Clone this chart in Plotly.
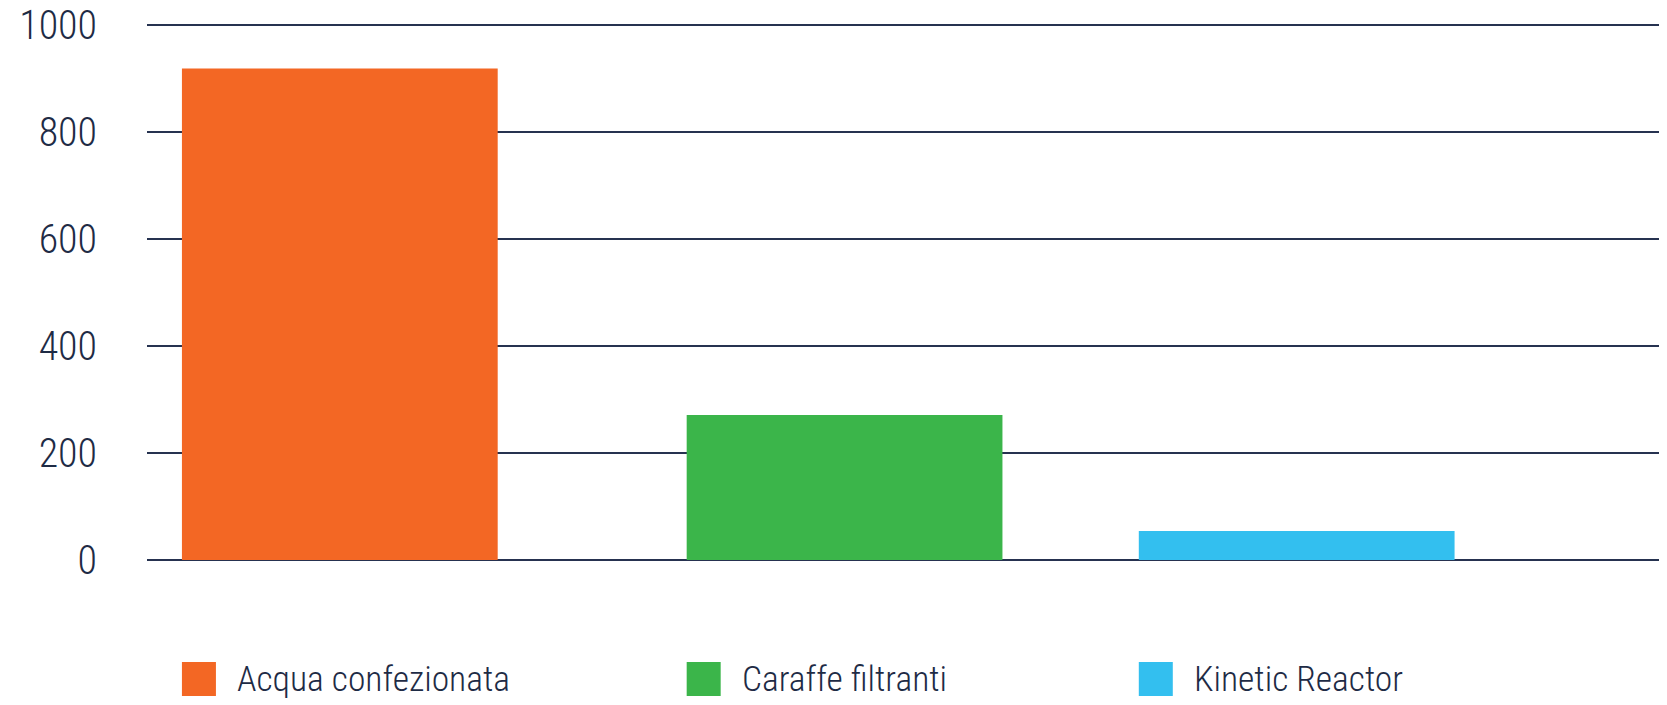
import plotly.graph_objects as go

categories = ["Acqua confezionata", "Caraffe filtranti", "Kinetic Reactor"]
values = [918, 271, 54]
colors = ["#F36724", "#3BB54A", "#33BFEF"]
y_ticks = [0, 200, 400, 600, 800, 1000]

TEXT = "#1E2B45"
GRID = "#263250"
FONT = ("Noto Sans ExtraCondensed Light, Noto Sans ExtraCondensed, "
        "Noto Sans Condensed Light, Noto Sans Condensed, Roboto Condensed, "
        "DejaVu Sans Condensed, sans-serif")
BAR_W = 0.66
BAR_OFFSET = [-0.349, -0.294, -0.349]   # left edge of each bar relative to its slot

fig = go.Figure()
fig.add_trace(go.Bar(
    x=categories, y=values, marker=dict(color=colors, line=dict(width=0)),
    width=BAR_W, offset=BAR_OFFSET, showlegend=False, hoverinfo="x+y",
))

for i, (cat, col) in enumerate(zip(categories, colors)):
    left = i + BAR_OFFSET[i]
    fig.add_shape(type="rect", xref="x", yref="paper",
                  xsizemode="pixel", ysizemode="pixel",
                  xanchor=left, yanchor=0, x0=0, x1=34, y0=-136, y1=-102,
                  fillcolor=col, line=dict(width=0), layer="above")
    fig.add_annotation(x=left, xref="x", y=0, yref="paper", text=cat,
                       showarrow=False, xanchor="left", yanchor="middle",
                       xshift=53, yshift=-119,
                       font=dict(family=FONT, size=35.5, color=TEXT, weight=300))

fig.update_layout(
    width=1667, height=705,
    margin=dict(l=139, r=8, t=6, b=153, autoexpand=False),
    paper_bgcolor="white", plot_bgcolor="white",
    showlegend=False,
    xaxis=dict(range=[-0.422, 2.755], showticklabels=False, showgrid=False,
               zeroline=False, showline=False, fixedrange=True, automargin=False),
    yaxis=dict(range=[0, 1020], tickvals=y_ticks, showgrid=True,
               gridcolor=GRID, gridwidth=2, zeroline=True, zerolinecolor=GRID,
               zerolinewidth=2, showline=False, ticks="", automargin=False,
               ticklabelstandoff=49, ticklabeloverflow="allow",
               tickfont=dict(family=FONT, size=40, color=TEXT, weight=300)),
)

fig.write_html("out.html")
